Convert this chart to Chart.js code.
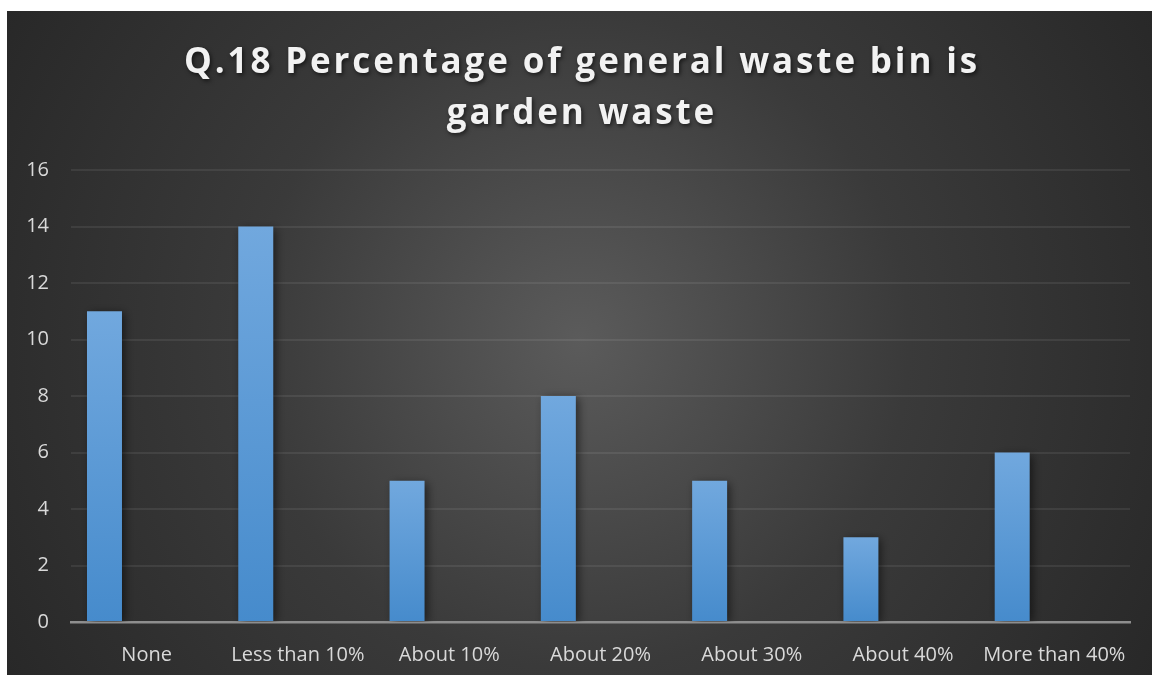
<!DOCTYPE html>
<html>
<head>
<meta charset="utf-8">
<script src="https://cdn.jsdelivr.net/npm/chart.js@4/dist/chart.umd.min.js"></script>
<style>
  html, body { margin: 0; padding: 0; background: #ffffff; }
  #wrap { width: 1152px; height: 677px; position: relative; }
</style>
</head>
<body>
<div id="wrap"><canvas id="c" width="1152" height="677"></canvas></div>
<script>
const categories = ["None", "Less than 10%", "About 10%", "About 20%", "About 30%", "About 40%", "More than 40%"];
const responses = [11, 14, 5, 8, 5, 3, 6];
const emptySeriesA = [null, null, null, null, null, null, null];
const emptySeriesB = [null, null, null, null, null, null, null];
const titleLines = ["Q.18 Percentage of general waste bin is", "garden waste"];
const yTickMin = 0, yTickMax = 16, yTickStep = 2;

const backgroundPlugin = {
  id: 'panelBg',
  beforeDraw(chart) {
    const ctx = chart.ctx;
    ctx.save();
    ctx.fillStyle = '#ffffff';
    ctx.fillRect(0, 0, chart.width, chart.height);
    const g = ctx.createRadialGradient(580, 340, 0, 580, 340, 700);
    g.addColorStop(0, '#5b5b5b');
    g.addColorStop(0.47, '#3a3a3a');
    g.addColorStop(1, '#262626');
    ctx.fillStyle = g;
    ctx.fillRect(7, 11, 1145, 664);
    ctx.restore();
  }
};

const titlePlugin = {
  id: 'spacedTitle',
  afterDraw(chart) {
    const ctx = chart.ctx;
    ctx.save();
    ctx.font = 'bold 35px "Open Sans"';
    try { ctx.letterSpacing = '2.85px'; } catch (e) {}
    ctx.textAlign = 'center';
    ctx.textBaseline = 'alphabetic';
    ctx.fillStyle = '#f2f2f2';
    ctx.shadowColor = 'rgba(0,0,0,0.6)';
    ctx.shadowBlur = 4;
    ctx.shadowOffsetX = 1.5;
    ctx.shadowOffsetY = 2;
    ctx.fillText(titleLines[0], 582, 73);
    ctx.fillText(titleLines[1], 582, 124);
    ctx.restore();
  }
};

const shadowPlugin = {
  id: 'barShadow',
  beforeDatasetsDraw(chart) {
    const ctx = chart.ctx;
    ctx.save();
    ctx.shadowColor = 'rgba(0,0,0,0.55)';
    ctx.shadowBlur = 9;
    ctx.shadowOffsetX = 3;
    ctx.shadowOffsetY = 2;
  },
  afterDatasetsDraw(chart) {
    chart.ctx.restore();
  }
};

function barGradient(context) {
  const chart = context.chart;
  if (context.type !== 'data' || !chart.chartArea || context.raw == null) return '#5b9bd5';
  const y = chart.scales.y;
  const top = y.getPixelForValue(context.raw);
  const bottom = y.getPixelForValue(0);
  const g = chart.ctx.createLinearGradient(0, top, 0, bottom);
  g.addColorStop(0, '#71a8de');
  g.addColorStop(1, '#468bcc');
  return g;
}

const barOpts = { categoryPercentage: 0.836, barPercentage: 0.83, borderWidth: 0 };

new Chart(document.getElementById('c'), {
  type: 'bar',
  data: {
    labels: categories,
    datasets: [
      Object.assign({ label: 'Responses', data: responses, backgroundColor: barGradient }, barOpts),
      Object.assign({ label: '', data: emptySeriesA, backgroundColor: 'transparent' }, barOpts),
      Object.assign({ label: '', data: emptySeriesB, backgroundColor: 'transparent' }, barOpts)
    ]
  },
  options: {
    responsive: false,
    animation: false,
    devicePixelRatio: 1,
    layout: { padding: { left: 7, top: 170, right: 22, bottom: 10 } },
    plugins: {
      legend: { display: false },
      title: { display: false },
      tooltip: { enabled: false }
    },
    scales: {
      x: {
        z: 1,
        grid: { display: false },
        border: { display: true, color: '#8e8e8e', width: 2.5 },
        ticks: {
          color: '#d9d9d9',
          font: { family: '"Open Sans"', size: 20 },
          padding: 13,
          maxRotation: 0,
          autoSkip: false
        },
        afterFit(scale) { scale.height = 45; }
      },
      y: {
        min: yTickMin,
        max: yTickMax,
        ticks: {
          stepSize: yTickStep,
          color: '#d9d9d9',
          font: { family: '"Open Sans"', size: 20 },
          padding: 22
        },
        grid: {
          drawTicks: false,
          lineWidth: 2,
          color: (c) => (c.tick && c.tick.value === 0) ? 'rgba(0,0,0,0)' : 'rgba(255,255,255,0.075)'
        },
        border: { display: false },
        afterFit(scale) { scale.width = 64; }
      }
    }
  },
  plugins: [backgroundPlugin, shadowPlugin, titlePlugin]
});
</script>
</body>
</html>
